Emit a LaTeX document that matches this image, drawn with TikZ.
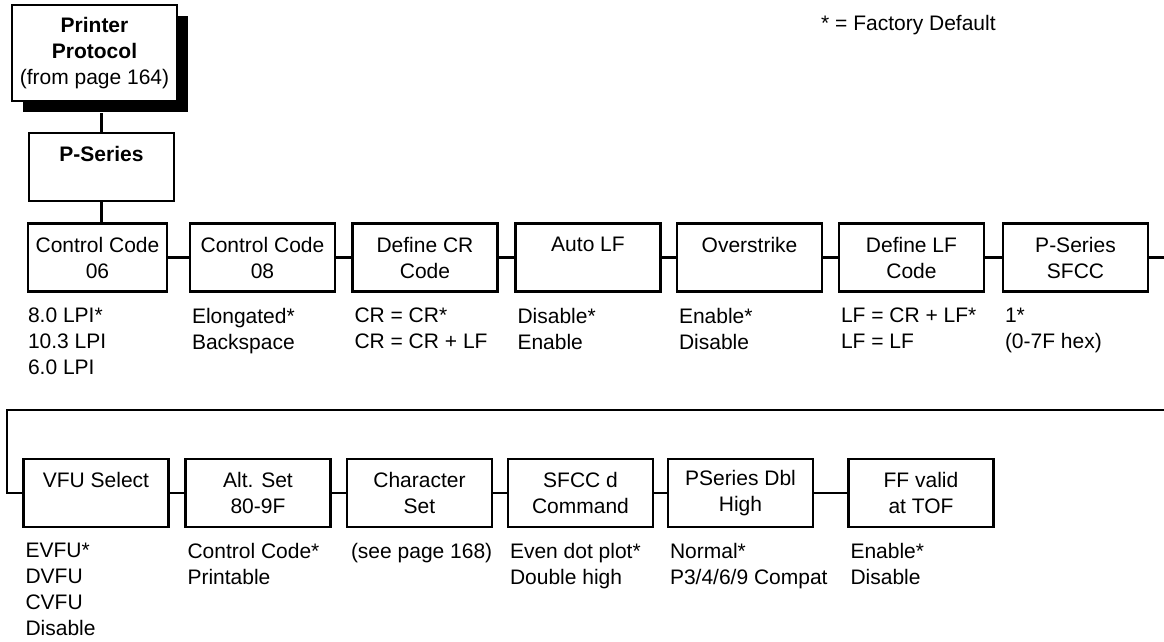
\documentclass[tikz,border=0pt]{standalone}
\usepackage{fontspec}
\setmainfont{Liberation Sans}
\usetikzlibrary{shadows}
\begin{document}
\begin{tikzpicture}[x=0.5pt, y=-0.5pt, line width=1.2pt,
  menu/.style={draw, fill=white, minimum width=72.5pt, minimum height=34pt, inner sep=0pt, align=center, font=\fontsize{10.5}{13}\selectfont},
  opts/.style={anchor=north west, inner sep=0pt, align=left, font=\fontsize{10.5}{13}\selectfont}]
  \useasboundingbox (0,0) rectangle (1164,642);
  \node[anchor=west, inner sep=0pt, font=\fontsize{10.5}{13}\selectfont] (fd) at (820,25) {* = Factory Default};
  % top of the menu
  \node[menu, minimum width=82.5pt, minimum height=48pt, drop shadow={shadow xshift=5.5pt, shadow yshift=-5.5pt, fill=black, opacity=1}] (pp) at (94.5,53) {\textbf{Printer}\\\textbf{Protocol}\\(from page 164)};
  \node[menu] (ps) at (101.5,167) {\textbf{P-Series}\\\phantom{X}};
  \coordinate (ppb) at ([yshift=-5.5pt]pp.south);
  % first row
  \node[menu, minimum width=69.5pt] (cc06) at (97.5,257.5) {Control Code\\06};
  \node[menu] (cc08) at (262.5,257.5) {Control Code\\08};
  \node[menu] (defcr) at (425,257.5) {Define CR\\Code};
  \node[menu] (autolf) at (588,257.5) {Auto LF\\\phantom{X}};
  \node[menu] (ovstr) at (749.5,257.5) {Overstrike\\\phantom{X}};
  \node[menu] (deflf) at (911.5,257.5) {Define LF\\Code};
  \node[menu] (sfcc) at (1075.5,257.5) {P-Series\\SFCC};
  % second row
  \node[menu] (vfu) at (96,493) {VFU Select\\\phantom{X}};
  \node[menu] (altset) at (258,493) {Alt. Set\\80-9F};
  \node[menu] (cset) at (419.5,493) {Character\\Set};
  \node[menu] (sfccd) at (580.5,493) {SFCC d\\Command};
  \node[menu] (dblhigh) at (740.5,493) {PSeries Dbl\\High};
  \node[menu] (ffvalid) at (921,493) {FF valid\\at TOF};
  % choices
  \node[opts] (o1) at ([yshift=-7pt]cc06.south west) {8.0 LPI*\\10.3 LPI\\6.0 LPI};
  \node[opts] (o2) at ([shift={(1pt,-7pt)}]cc08.south west) {Elongated*\\Backspace};
  \node[opts] (o3) at ([shift={(1pt,-7pt)}]defcr.south west) {CR = CR*\\CR = CR + LF};
  \node[opts] (o4) at ([shift={(1pt,-7pt)}]autolf.south west) {Disable*\\Enable};
  \node[opts] (o5) at ([shift={(1pt,-7pt)}]ovstr.south west) {Enable*\\Disable};
  \node[opts] (o6) at ([shift={(1pt,-7pt)}]deflf.south west) {LF = CR + LF*\\LF = LF};
  \node[opts] (o7) at ([shift={(1pt,-7pt)}]sfcc.south west) {1*\\(0-7F hex)};
  \node[opts] (o8) at ([shift={(1pt,-7pt)}]vfu.south west) {EVFU*\\DVFU\\CVFU\\Disable};
  \node[opts] (o9) at ([shift={(1pt,-7pt)}]altset.south west) {Control Code*\\Printable};
  \node[opts] (o10) at ([shift={(2pt,-7pt)}]cset.south west) {(see page 168)};
  \node[opts] (o11) at ([shift={(1pt,-7pt)}]sfccd.south west) {Even dot plot*\\Double high};
  \node[opts] (o12) at ([shift={(1pt,-7pt)}]dblhigh.south west) {Normal*\\P3/4/6/9 Compat};
  \node[opts] (o13) at ([shift={(1pt,-7pt)}]ffvalid.south west) {Enable*\\Disable};
  % connectors
  \draw (ps.north) -- (ps.north |- ppb);
  \draw (ps.south) -- (ps.south |- cc06.north);
  \foreach \a/\b in {cc06/cc08, cc08/defcr, defcr/autolf, autolf/ovstr, ovstr/deflf, deflf/sfcc,
    vfu/altset, altset/cset, cset/sfccd, sfccd/dblhigh, dblhigh/ffvalid}
    \draw (\a.east) -- (\b.west);
  \coordinate (r1end) at (1164,257.5);
  \coordinate (wrapR) at (1164,410);
  \coordinate (wrapL) at (7,410);
  \draw (sfcc.east) -- (r1end);
  \draw (wrapR) -- (wrapL) |- (vfu.west);
\end{tikzpicture}
\end{document}
